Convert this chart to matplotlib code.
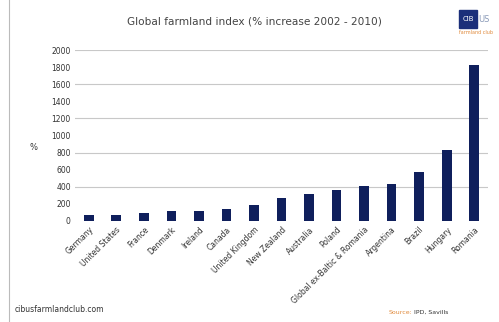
import matplotlib
matplotlib.use('Agg')
import matplotlib.pyplot as plt
from matplotlib.patches import Rectangle

countries = ['Germany', 'United States', 'France', 'Denmark', 'Ireland', 'Canada',
             'United Kingdom', 'New Zealand', 'Australia', 'Poland',
             'Global ex-Baltic & Romania', 'Argentina', 'Brazil', 'Hungary', 'Romania']
increase = [65, 65, 90, 115, 115, 140, 190, 270, 310, 357, 404, 432, 573, 827, 1824]
yticks = [0, 200, 400, 600, 800, 1000, 1200, 1400, 1600, 1800, 2000]

W, H = 499, 322
fig = plt.figure(figsize=(W / 100, H / 100), dpi=100)
ax = fig.add_axes([75 / W, 1 - 221 / H, 413 / W, 171 / H])

ax.bar(range(len(countries)), increase, width=0.35, color='#0f1f5c', zorder=3)
ax.set_xlim(-0.5, len(countries) - 0.5)
ax.set_ylim(0, 2000)
ax.set_yticks(yticks)
ax.set_yticklabels([str(t) for t in yticks], fontsize=5.5, color='#333333')
for t in [400, 800, 1200, 1600, 2000]:
    ax.axhline(t, color='#c8c8c8', lw=0.8, zorder=1)
ax.set_xticks(range(len(countries)))
ax.set_xticklabels(countries, rotation=45, ha='right', rotation_mode='anchor',
                   fontsize=5.5, color='#333333')
ax.tick_params(length=0, pad=3)
for s in ax.spines.values():
    s.set_visible(False)

fig.text(33 / W, 1 - 148 / H, '%', ha='center', va='center', fontsize=6, color='#333333')

fig.text(254 / W, 1 - 22 / H, 'Global farmland index (% increase 2002 - 2010)',
         ha='center', va='center', fontsize=7.6, color='#444444')

# left frame line
fig.add_artist(plt.Line2D([9 / W, 9 / W], [0, 1], color='#bbbbbb', lw=0.8))

# logo
fig.add_artist(Rectangle((459 / W, 1 - 28 / H), 18 / W, 18 / H, transform=fig.transFigure,
                         color='#1b2f7a'))
fig.text(468 / W, 1 - 19 / H, 'CIB', ha='center', va='center', fontsize=5, color='white')
fig.text(478 / W, 1 - 19 / H, 'US', ha='left', va='center', fontsize=6, color='#8a9ab8')
fig.text(459 / W, 1 - 33 / H, 'farmland club', ha='left', va='center', fontsize=3.5,
         color='#e08a3c')

fig.text(15 / W, 1 - 310 / H, 'cibusfarmlandclub.com', ha='left', va='center',
         fontsize=5.5, color='#333333')
fig.text(412 / W, 1 - 312 / H, 'Source:', ha='right', va='center', fontsize=4.5,
         color='#e08a3c')
fig.text(414 / W, 1 - 312 / H, 'IPD, Savills', ha='left', va='center', fontsize=4.5,
         color='#333333')

fig.savefig('out.png', dpi=100, facecolor='white')
